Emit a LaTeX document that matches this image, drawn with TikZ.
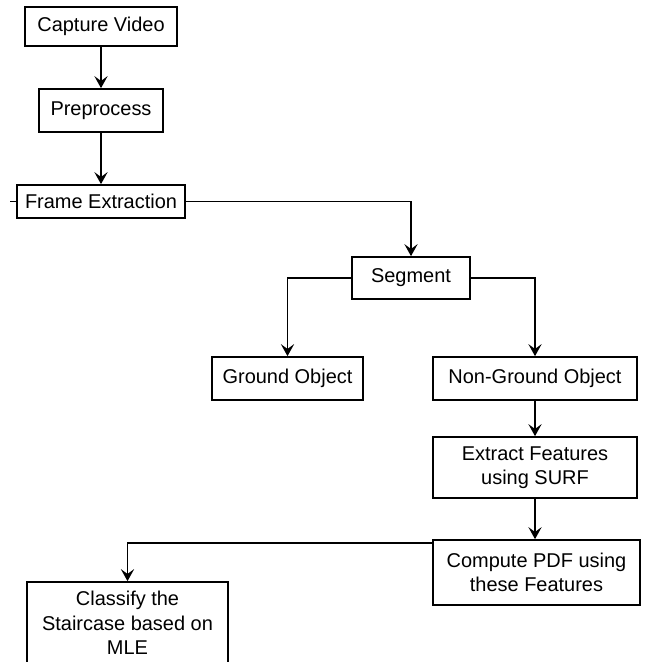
\documentclass[tikz,border=0pt]{standalone}
\usepackage{fontspec}
\setmainfont{Liberation Sans}
\usetikzlibrary{arrows.meta}
\begin{document}
\begin{tikzpicture}[
    box/.style={draw,
        rectangle,
        line width=1.2pt,
        align=center,
        inner sep=0pt,
        font=\fontsize{14.2}{17.4}\selectfont},
    arr/.style={line width=1.2pt,
        -{Stealth[length=0.3cm,width=0.33cm,inset=0.12cm]}}
    ]
        \useasboundingbox (0cm,0cm) rectangle (16.1cm,-16.55cm);
        \clip (0cm,0cm) rectangle (16.1cm,-16.55cm);

        \node[box,
        minimum width = 3.8cm,
        minimum height = 0.975cm
        ](cap) at (2.525cm,-0.6625cm) {Capture Video};

        \node[box,
        minimum width = 3.1cm,
        minimum height = 1.075cm
        ](pre) at (2.525cm,-2.7625cm) {Preprocess};

        \node[box,
        minimum width = 4.2cm,
        minimum height = 0.825cm
        ](fe) at (2.525cm,-5.0375cm) {Frame Extraction};

        \node[box,
        minimum width = 2.95cm,
        minimum height = 1.05cm
        ](seg) at (10.275cm,-6.95cm) {Segment};

        \node[box,
        minimum width = 3.775cm,
        minimum height = 1.075cm
        ](gnd) at (7.1875cm,-9.4625cm) {Ground Object};

        \node[box,
        minimum width = 5.1cm,
        minimum height = 1.075cm
        ](ngo) at (13.375cm,-9.4625cm) {Non-Ground Object};

        \node[box,
        minimum width = 5.1cm,
        minimum height = 1.525cm
        ](surf) at (13.375cm,-11.6875cm) {Extract Features\\using SURF};

        \node[box,
        minimum width = 5.175cm,
        minimum height = 1.625cm
        ](pdf) at (13.4125cm,-14.3125cm) {Compute PDF using\\these Features};

        \node[box,
        minimum width = 5.025cm,
        minimum height = 2.05cm
        ](mle) at (3.1875cm,-15.575cm) {Classify the\\Staircase based on\\MLE};

        \coordinate (stub) at (0.25cm,-5.0375cm);

        \draw[arr] (cap) -- (pre);
        \draw[arr] (pre) -- (fe);
        \draw[line width=1.2pt] (fe.west) -- (stub);
        \draw[arr] (fe.east) -| (seg.north);
        \draw[arr] (seg.west) -| (gnd.north);
        \draw[arr] (seg.east) -| (ngo.north);
        \draw[arr] (ngo.south -| surf.north) -- (surf.north);
        \draw[arr] (surf) -- (pdf.north -| surf.south);
        \draw[arr] ([yshift=-0.1cm]pdf.north west) -| (mle.north);

    \end{tikzpicture}
\end{document}
